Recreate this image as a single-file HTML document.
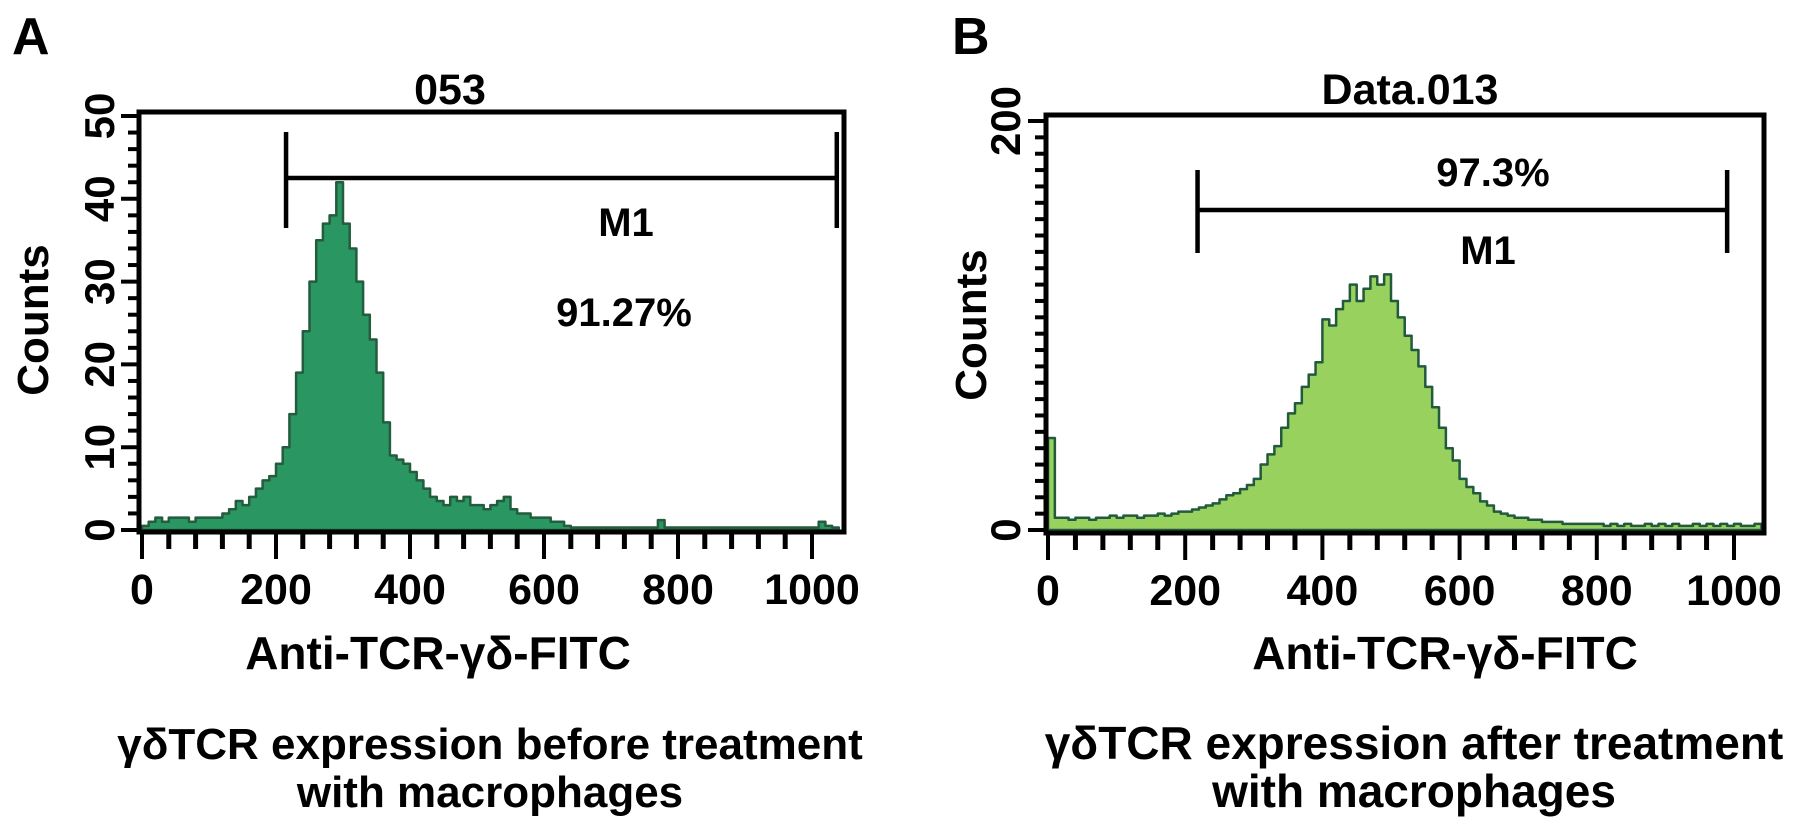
<!DOCTYPE html>
<html><head><meta charset="utf-8"><style>
html,body{margin:0;padding:0;background:#fff;}
svg text{font-family:"Liberation Sans",Arial,sans-serif;font-weight:bold;fill:#000;}
</style></head><body>
<svg id="fig" width="1795" height="835" viewBox="0 0 1795 835" xmlns="http://www.w3.org/2000/svg">
<text x="12" y="54" font-size="52">A</text>
<text x="952" y="54" font-size="52">B</text>
<g id="pa"></g>
<g id="pb"></g>
</svg>
<script>
// Panel A data (bin start = i*10 channels)
const binsA = [0.5,1,1.5,1,1.5,1.5,1.5,1,1.5,1.5, 1.5,1.5,2,2.5,3.5,3,4,5,6,6.5,
 8,10,14,19,24,30,35,37,38,42, 37,34,30,26,23,19,13,9,8.5,8,
 7,6,5,4,3.5,3,4,3.5,4,3, 3,2.5,3,3.5,4,2.5,2,2,1.5,1.5,
 1.5,1,1,0.5,0.3,0.3,0.3,0.3,0.3,0.3, 0.3,0.3,0.3,0.3,0.3,0.3,0.3,1.2,0.3,0.3,
 0.3,0.3,0.3,0.3,0.3,0.3,0.3,0.3,0.3,0.3, 0.3,0.3,0.3,0.3,0.3,0.3,0.3,0.3,0.3,0.3,
 0.3,1,0.5,0.3];
// Panel B data
const binsB = [45,6,6,5,6,6,5,6,6,7, 6,7,7,6,7,7,8,7,8,9,
 9,10,11,12,13,15,17,18,20,22, 25,32,37,41,50,57,62,70,76,82,
 103,100,108,112,120,112,118,124,120,125, 112,104,95,88,80,70,60,50,40,34,
 25,21,18,14,12,9,8,7,6,6, 5,5,4,4,4,3,3,3,3,3,
 3,2,3,2,3,2,2,3,2,3, 2,3,2,2,3,2,3,2,3,2,
 3,2,2,3];
const xTicks = [0,200,400,600,800,1000];
const yTicksA = [0,10,20,30,40,50];
const yTicksB = [0,200];
const gateA = [215,1037], gateB = [218,990];

const NS="http://www.w3.org/2000/svg";
function mk(parent,tag,attrs,txt){const e=document.createElementNS(NS,tag);for(const k in attrs)e.setAttribute(k,attrs[k]);if(txt!==undefined)e.textContent=txt;parent.appendChild(e);return e;}

function panel(g,o){
  const sx=v=>o.x0+v*o.kx, sy=v=>o.y0-v*o.ky;
  let d=`M${sx(0)},${sy(0)}`;
  o.bins.forEach((v,i)=>{d+=` L${sx(i*10)},${sy(v)} L${sx(i*10+10)},${sy(v)}`;});
  d+=` L${sx(o.bins.length*10)},${sy(0)} Z`;
  const h=mk(g,'path',{d:d,fill:o.fill,stroke:o.stroke,'stroke-width':2.5,'stroke-linejoin':'round'});
  
  
  const b=mk(g,'rect',{x:o.bl,y:o.bt,width:o.br-o.bl,height:o.bb-o.bt,fill:'none',stroke:'#000','stroke-width':5});
  
  
  for(let v=0;v<=o.ymax+1e-9;v+=o.yminor){
    const t=mk(g,'line',{x1:o.bl-(v%o.ymajor===0?18:11),x2:o.bl,y1:sy(v),y2:sy(v),stroke:'#000','stroke-width':4});
    
    
  }
  o.yt.forEach(v=>{
    const t=mk(g,'text',{x:o.ylx,y:sy(v),'font-size':42,'text-anchor':'middle',transform:`rotate(-90 ${o.ylx} ${sy(v)})`},String(v));
    
    
  });
  for(let v=0;v<=1000;v+=40){
    const maj=v%200===0;
    const t=mk(g,'line',{x1:sx(v),x2:sx(v),y1:o.bb,y2:o.bb+(maj?27:17),stroke:'#000','stroke-width':maj?4:5});
    
    
  }
  xTicks.forEach(v=>{
    const t=mk(g,'text',{x:sx(v),y:o.bb+72,'font-size':43,'text-anchor':'middle'},String(v));
    
    
  });
  const gx1=sx(o.gate[0]),gx2=sx(o.gate[1]);
  const gl=mk(g,'path',{d:`M${gx1},${o.gt} V${o.gbm} M${gx2},${o.gt} V${o.gbm} M${gx1},${o.gy} H${gx2}`,stroke:'#000','stroke-width':4.5,fill:'none'});
  
  
  o.texts.forEach(tt=>{
    const t=mk(g,'text',{x:tt[0],y:tt[1],'font-size':tt[3],'text-anchor':'middle',transform:tt[5]||''},tt[2]);
    
    
  });
}

panel(document.getElementById('pa'),{bins:binsA,x0:142,kx:0.67,y0:530,ky:8.28,bl:139,br:844,bt:112,bb:532,
  ymax:50,yminor:2,ymajor:10,yt:yTicksA,ylx:114,gate:gateA,gt:132,gbm:228,gy:178,
  fill:'#2a9763',stroke:'#245c3e',
  texts:[[450,104,'053',43,'chart-title-a'],[626,236,'M1',40,'gate-label-a'],[624,326,'91.27%',40,'gate-percent-a'],
   [438,669,'Anti-TCR-γδ-FITC',46,'x-axis-title-a'],[490,759,'γδTCR expression before treatment',44,'caption-a-line1'],
   [490,807,'with macrophages',44,'caption-a-line2'],[48,320,'Counts',44,'y-axis-title-a','rotate(-90 48 320)']]});
panel(document.getElementById('pb'),{bins:binsB,x0:1048,kx:0.686,y0:530,ky:2.045,bl:1046,br:1764,bt:115,bb:533,
  ymax:200,yminor:8,ymajor:200,yt:yTicksB,ylx:1020,gate:gateB,gt:170,gbm:253,gy:210,
  fill:'#98d15e',stroke:'#215a3c',
  texts:[[1410,104,'Data.013',43,'chart-title-b'],[1493,186,'97.3%',40,'gate-percent-b'],[1488,264,'M1',40,'gate-label-b'],
   [1445,669,'Anti-TCR-γδ-FITC',46,'x-axis-title-b'],[1414,759,'γδTCR expression after treatment',46,'caption-b-line1'],
   [1414,807,'with macrophages',46,'caption-b-line2'],[986,325,'Counts',44,'y-axis-title-b','rotate(-90 986 325)']]});
</script>
</body></html>
